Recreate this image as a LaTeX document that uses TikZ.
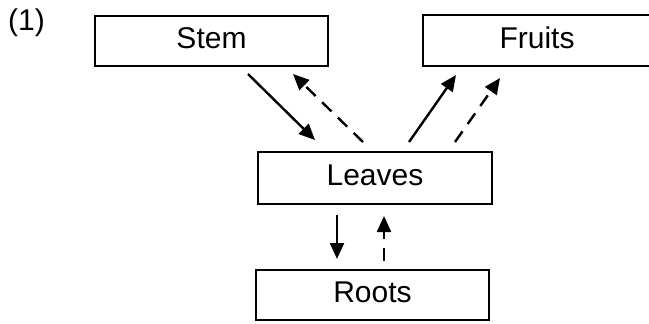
\documentclass[tikz,border=0pt]{standalone}
\usepackage{fontspec}
\setmainfont{Liberation Sans}
\usetikzlibrary{arrows.meta}

\tikzset{
    part/.style={draw,line width=2pt,inner sep=0pt,minimum height=50pt,text depth=6pt,
        font=\fontsize{30}{36}\selectfont},
    flow/.style={line width=2.4pt,-{Triangle[length=16pt,width=14pt]}},
    backflow/.style={flow,dash pattern=on 13pt off 9pt}
}

\begin{document}
\begin{tikzpicture}[x=1pt,y=-1pt]
        \useasboundingbox (0,0) rectangle (649,324);
        \node[font=\fontsize{30}{36}\selectfont] (num) at (26.5,23) {(1)};
        \node[part,minimum width=233pt] (stem) at (211.5,41) {Stem};
        \node[part,minimum width=228pt,minimum height=51pt] (fruits) at (537,40.5) {Fruits};
        \node[part,minimum width=234pt,minimum height=52pt] (leaves) at (375,178) {Leaves};
        \node[part,minimum width=233pt] (roots) at (372.5,295) {Roots};
        \draw[flow] ([xshift=36.5pt,yshift=-7pt]stem.south) -- ([xshift=-60pt,yshift=11pt]leaves.north);
        \draw[backflow] ([xshift=-12pt,yshift=9pt]leaves.north) -- ([xshift=81.5pt,yshift=-7pt]stem.south);
        \draw[flow] ([xshift=34pt,yshift=9pt]leaves.north) -- ([xshift=-81pt,yshift=-8pt]fruits.south);
        \draw[backflow] ([xshift=80pt,yshift=9pt]leaves.north) -- ([xshift=-37pt,yshift=-11pt]fruits.south);
        \draw[flow] ([xshift=-38pt,yshift=-10pt]leaves.south) -- ([xshift=-35.5pt,yshift=10pt]roots.north);
        \draw[backflow] ([xshift=11.5pt,yshift=8pt]roots.north) -- ([xshift=9pt,yshift=-11pt]leaves.south);
    \end{tikzpicture}
\end{document}
